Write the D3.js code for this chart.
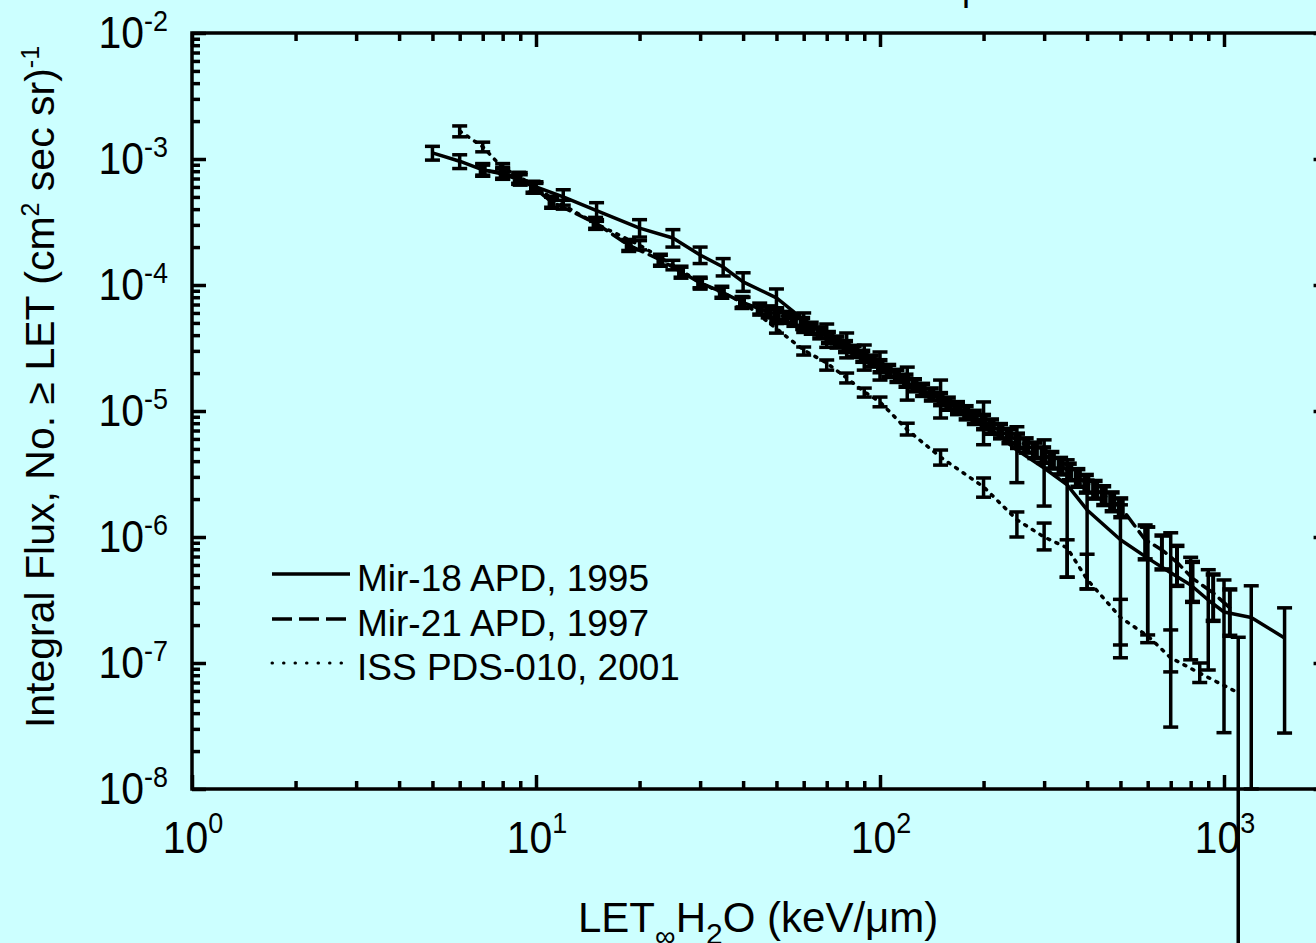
<!DOCTYPE html>
<html><head><meta charset="utf-8">
<script src="https://cdn.jsdelivr.net/npm/d3@7"></script>
<style>
html,body{margin:0;padding:0;background:#ccffff;}
svg{display:block;font-family:"Liberation Sans",Arial,sans-serif;}
</style></head><body>
<svg id="c" width="1316" height="943"></svg>
<script>
// ---------- data ----------
const xTickExps = [0, 1, 2, 3];
const yTickExps = [-2, -3, -4, -5, -6, -7, -8];
const seriesNames = ["Mir-18 APD, 1995", "Mir-21 APD, 1997", "ISS PDS-010, 2001"];
const xTitle = ["LET", "\u221E", "H", "2", "O (keV/\u03BCm)"];
const yTitle = ["Integral Flux, No. \u2265 LET (cm", "2", " sec sr)", "-1"];

// Mir-18 APD, 1995 (solid)
const mir18LET  = [5,6,7,8,9,10,12,15,20,25,30,35,40,50,60,70,80,90,100,120,150,200,250,300,350,400,500,600,700,800,900,1000,1200,1500];
const mir18Flux = [1.12e-3,9.6e-4,8.2e-4,7.6e-4,6.8e-4,6.0e-4,5.0e-4,3.9e-4,2.83e-4,2.36e-4,1.73e-4,1.39e-4,1.06e-4,7.9e-5,5.3e-5,4.24e-5,3.47e-5,2.89e-5,2.49e-5,1.67e-5,1.24e-5,8.0e-6,4.9e-6,3.53e-6,2.59e-6,1.64e-6,9.5e-7,6.8e-7,5.2e-7,4.16e-7,3.16e-7,2.54e-7,2.3e-7,1.58e-7];
const mir18Lo   = [9.8e-4,8.4e-4,7.3e-4,6.9e-4,6.2e-4,5.4e-4,4.3e-4,3.2e-4,2.4e-4,2.0e-4,1.48e-4,1.18e-4,8.9e-5,6.6e-5,4.2e-5,3.2e-5,2.64e-5,2.11e-5,1.76e-5,1.22e-5,8.8e-6,5.4e-6,2.7e-6,1.76e-6,4.8e-7,3.87e-7,1.1e-7,1.67e-7,3.1e-8,1.06e-7,8.8e-8,2.8e-8,1.0e-8,2.78e-8];
const mir18Hi   = [1.26e-3,1.08e-3,9.2e-4,8.4e-4,7.5e-4,6.6e-4,5.7e-4,4.5e-4,3.3e-4,2.75e-4,2.0e-4,1.62e-4,1.25e-4,9.3e-5,6.0e-5,4.9e-5,4.16e-5,3.34e-5,2.94e-5,2.23e-5,1.76e-5,1.18e-5,7.5e-6,5.9e-6,4.1e-6,2.83e-6,1.8e-6,1.2e-6,1.08e-6,6.9e-7,5.5e-7,4.56e-7,4.1e-7,2.74e-7];

// Mir-21 APD, 1997 (dashed)
const mir21LET  = [7,8,8.9,9.8,11.1,14.9,18.6,23,26.4,30,34.7,39.7,
  44.7,47.3,50.1,53.1,56.2,59.6,63.1,66.8,70.8,75.0,79.4,84.1,89.1,94.4,100,106,112,119,126,133,141,150,158,168,178,188,200,211,224,237,251,266,282,299,316,335,355,376,398,422,447,473,501,
  590,660,730,810,930,1040];
const mir21Flux = [8.2e-4,7.75e-4,7.06e-4,6.0e-4,4.56e-4,3.1e-4,2.07e-4,1.58e-4,1.27e-4,1.04e-4,8.8e-5,7.3e-5,
  6.47e-5,6.15e-5,5.85e-5,5.56e-5,5.27e-5,4.97e-5,4.56e-5,4.19e-5,3.85e-5,3.54e-5,3.26e-5,2.99e-5,2.73e-5,2.50e-5,2.28e-5,2.09e-5,1.91e-5,1.75e-5,1.61e-5,1.48e-5,1.36e-5,1.25e-5,1.15e-5,1.06e-5,9.75e-6,8.96e-6,8.24e-6,7.58e-6,6.97e-6,6.38e-6,5.85e-6,5.37e-6,4.92e-6,4.51e-6,4.11e-6,3.69e-6,3.32e-6,2.98e-6,2.68e-6,2.40e-6,2.16e-6,1.93e-6,1.73e-6,
  9.5e-7,7.9e-7,6.3e-7,4.7e-7,3.6e-7,2.74e-7];
const mir21RelErr = [0.1,0.1,0.1,0.1,0.1,0.1,0.1,0.1,0.1,0.1,0.1,0.1,
  0.1,0.1,0.1,0.1,0.1,0.1,0.1,0.1,0.1,0.1,0.1,0.1,0.1,0.1,0.11,0.11,0.11,0.11,0.11,0.11,0.11,0.11,0.11,0.11,0.12,0.12,0.13,0.13,0.13,0.13,0.13,0.13,0.14,0.14,0.15,0.15,0.15,0.16,0.16,0.16,0.17,0.17,0.17,
  0.3,0.3,0.35,0.35,0.4,0.4];

// ISS PDS-010, 2001 (dotted)
const issLET  = [6,7,8,9,10,12,15,20,25,30,40,50,60,70,80,90,100,120,150,200,250,300,350,400,500,600,700,850,1100];
const issFlux = [1.67e-3,1.25e-3,8.5e-4,7.2e-4,5.9e-4,4.3e-4,3.05e-4,2.07e-4,1.44e-4,1.04e-4,7.3e-5,4.5e-5,3.05e-5,2.4e-5,1.83e-5,1.42e-5,1.18e-5,7.1e-6,4.3e-6,2.5e-6,1.37e-6,1.0e-6,8.2e-7,4.6e-7,2.3e-7,1.64e-7,1.1e-7,8.3e-8,5.8e-8];
const issLo   = [1.5e-3,1.14e-3,7.9e-4,6.7e-4,5.5e-4,4.0e-4,2.8e-4,1.9e-4,1.32e-4,9.5e-5,6.7e-5,4.15e-5,2.78e-5,2.11e-5,1.67e-5,1.29e-5,1.08e-5,6.45e-6,3.72e-6,2.07e-6,1.0e-6,7.9e-7,4.8e-7,3.87e-7,1.39e-7,1.45e-7,8.5e-8,7.0e-8,1e-10];
const issHi   = [1.83e-3,1.36e-3,9.2e-4,7.8e-4,6.4e-4,4.7e-4,3.3e-4,2.25e-4,1.57e-4,1.13e-4,8.0e-5,4.95e-5,3.22e-5,2.54e-5,2.0e-5,1.52e-5,1.29e-5,8.0e-6,4.9e-6,2.94e-6,1.58e-6,1.29e-6,9.5e-7,7.3e-7,3.2e-7,1.2e-6,1.83e-7,1.0e-7,1.6e-7];

// ---------- drawing ----------
const svg = d3.select("#c");
const FONT = 44, SUP = 29;
const x = d3.scaleLog().domain([1, 2000]).range([192, 192 + 344 * Math.log10(2000)]);
const y = d3.scaleLog().domain([1e-8, 1e-2]).range([789, 33]);
const X0 = x.range()[0], X1 = x.range()[1], Y0 = y.range()[0], Y1 = y.range()[1];

// title fragment cut off at the top edge (only a descender shows)
svg.append("text").attr("x", 962).attr("y", 0).attr("font-size", 36).text("p");

// ticks
const xMajor = xTickExps.map(e => Math.pow(10, e));
const xMinor = [];
for (let e = 0; e <= 3; e++) for (let k = 2; k <= 9; k++) { const v = k * Math.pow(10, e); if (v < 2000) xMinor.push(v); }
const yMajor = yTickExps.map(e => Math.pow(10, e));
const yMinor = [];
for (let e = -8; e <= -3; e++) for (let k = 2; k <= 9; k++) yMinor.push(k * Math.pow(10, e));

function axisG(axis, tr) {
  const g = svg.append("g").attr("transform", tr).call(axis);
  g.select(".domain").remove();
  g.selectAll("line").attr("stroke", "#000").attr("stroke-width", 3.5);
  g.selectAll("text").remove();
  return g;
}
axisG(d3.axisBottom(x).tickValues(xMajor).tickSize(-14), `translate(0,${Y0})`);
axisG(d3.axisBottom(x).tickValues(xMinor).tickSize(-8), `translate(0,${Y0})`);
axisG(d3.axisTop(x).tickValues(xMajor).tickSize(-14), `translate(0,${Y1})`);
axisG(d3.axisTop(x).tickValues(xMinor).tickSize(-8), `translate(0,${Y1})`);
axisG(d3.axisLeft(y).tickValues(yMajor).tickSize(-14), `translate(${X0},0)`);
axisG(d3.axisLeft(y).tickValues(yMinor).tickSize(-8), `translate(${X0},0)`);
axisG(d3.axisRight(y).tickValues(yMajor).tickSize(-14), `translate(${X1},0)`);
axisG(d3.axisRight(y).tickValues(yMinor).tickSize(-8), `translate(${X1},0)`);

// frame
svg.append("rect").attr("x", X0).attr("y", Y1).attr("width", X1 - X0).attr("height", Y0 - Y1)
  .attr("fill", "none").attr("stroke", "#000").attr("stroke-width", 3.5);

// tick labels
xTickExps.forEach(e => {
  const t = svg.append("text").attr("transform", `translate(${x(Math.pow(10, e)) + 1},853) scale(0.93,1)`)
    .attr("text-anchor", "middle").attr("font-size", FONT);
  t.append("tspan").text("10");
  t.append("tspan").attr("dy", -20).attr("font-size", SUP).text(String(e));
});
yTickExps.forEach(e => {
  const t = svg.append("text").attr("transform", `translate(168,${y(Math.pow(10, e)) + 15}) scale(0.93,1)`)
    .attr("text-anchor", "end").attr("font-size", FONT);
  t.append("tspan").text("10");
  t.append("tspan").attr("dy", -17).attr("font-size", SUP).text(String(e));
});

// axis titles
{
  const t = svg.append("text").attr("x", 578).attr("y", 932).attr("font-size", 42);
  t.append("tspan").text(xTitle[0]);
  t.append("tspan").attr("dy", 14).attr("font-size", 29).text(xTitle[1]);
  t.append("tspan").attr("dy", -14).text(xTitle[2]);
  t.append("tspan").attr("dy", 12).attr("font-size", 30).text(xTitle[3]);
  t.append("tspan").attr("dy", -12).text(xTitle[4]);
}
{
  const t = svg.append("text").attr("transform", "translate(54,387) rotate(-90)")
    .attr("text-anchor", "middle").attr("font-size", 41);
  t.append("tspan").text(yTitle[0]);
  t.append("tspan").attr("dy", -15).attr("font-size", 25).text(yTitle[1]);
  t.append("tspan").attr("dy", 15).text(yTitle[2]);
  t.append("tspan").attr("dy", -15).attr("font-size", 25).text(yTitle[3]);
}

// series
const line = d3.line().x(d => x(d.L)).y(d => y(d.F));
function drawSeries(L, F, lo, hi, dash, capW, stemW, capStroke) {
  const data = L.map((v, i) => ({ L: v, F: F[i], lo: lo[i], hi: hi[i] }));
  const g = svg.append("g");
  g.append("path").datum(data).attr("d", line).attr("fill", "none").attr("stroke", "#000")
    .attr("stroke-width", 3.5).attr("stroke-linejoin", "round")
    .attr("stroke-linecap", dash ? "round" : "butt")
    .attr("stroke-dasharray", dash || null);
  const eb = g.selectAll("g.eb").data(data).join("g").attr("stroke", "#000");
  eb.append("line").attr("stroke-width", (d, i) => typeof stemW === "function" ? stemW(i) : stemW)
    .attr("x1", d => x(d.L)).attr("x2", d => x(d.L)).attr("y1", d => y(d.lo)).attr("y2", d => y(d.hi));
  eb.append("line").attr("stroke-width", capStroke)
    .attr("x1", d => x(d.L) - capW / 2).attr("x2", d => x(d.L) + capW / 2).attr("y1", d => y(d.lo)).attr("y2", d => y(d.lo));
  eb.append("line").attr("stroke-width", capStroke)
    .attr("x1", d => x(d.L) - capW / 2).attr("x2", d => x(d.L) + capW / 2).attr("y1", d => y(d.hi)).attr("y2", d => y(d.hi));
}
drawSeries(issLET, issFlux, issLo, issHi, "2,7", 15, 3.5, 3.5);
drawSeries(mir21LET, mir21Flux,
  mir21Flux.map((f, i) => f * (1 - mir21RelErr[i])),
  mir21Flux.map((f, i) => f * (1 + mir21RelErr[i])), "14,7", 15,
  i => (mir21RelErr[i] >= 0.3 ? 4 : 8), 4.5);
drawSeries(mir18LET, mir18Flux, mir18Lo, mir18Hi, null, 15, 3.5, 3.5);

// legend
const legY = [574, 619, 663];
const legDash = [null, "20,7", "0.5,11"];
seriesNames.forEach((n, i) => {
  svg.append("line").attr("x1", 272).attr("x2", 350).attr("y1", legY[i]).attr("y2", legY[i])
    .attr("stroke", "#000").attr("stroke-width", i === 2 ? 3 : 3.5)
    .attr("stroke-linecap", i === 2 ? "round" : "butt")
    .attr("stroke-dasharray", legDash[i]);
  svg.append("text").attr("x", 357).attr("y", legY[i] + 17).attr("font-size", 37).text(n);
});
</script>
</body></html>
